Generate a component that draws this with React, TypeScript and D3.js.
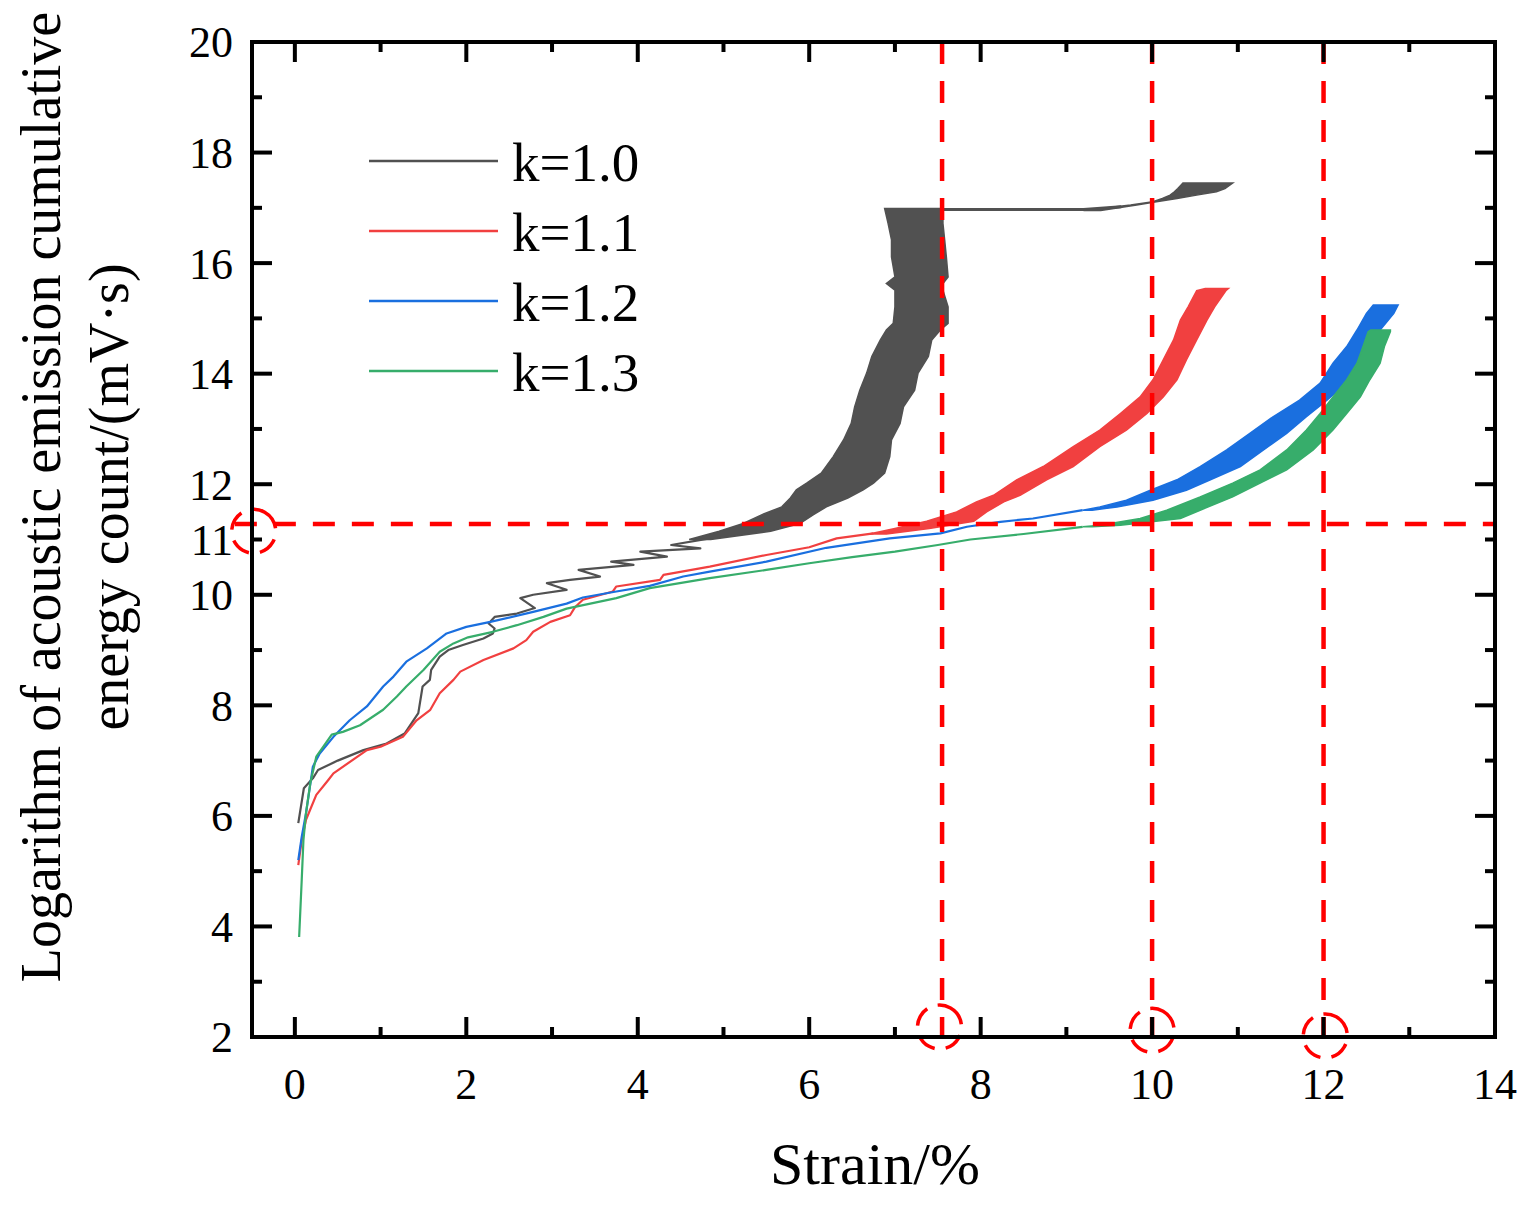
import { useEffect, useRef } from 'react';
import * as d3 from 'd3';

// thin parts of each curve: [strain %, log energy]
const k10Line: [number, number][] = [
  [0.04, 5.87], [0.105, 6.5], [0.21, 6.68], [0.27, 6.83], [0.5, 7.0], [0.8, 7.19], [1.07, 7.31],
  [1.28, 7.49], [1.44, 7.86], [1.49, 8.34], [1.575, 8.46], [1.59, 8.64], [1.69, 8.88], [1.79, 9.0],
  [1.96, 9.09], [2.2, 9.21], [2.31, 9.3], [2.33, 9.39], [2.26, 9.48], [2.33, 9.6], [2.59, 9.66],
  [2.8, 9.76], [2.63, 9.94], [2.78, 10.0], [3.17, 10.09], [2.94, 10.21], [3.21, 10.27], [3.56, 10.33],
  [3.31, 10.45], [3.95, 10.54], [3.69, 10.6], [4.34, 10.69], [4.03, 10.78], [4.73, 10.84],
  [4.39, 10.9], [4.84, 11.02],
];
const k11Line: [number, number][] = [
  [0.04, 5.11], [0.08, 5.56], [0.13, 5.93], [0.25, 6.38], [0.39, 6.65], [0.45, 6.77], [0.84, 7.19],
  [1.0, 7.25], [1.26, 7.43], [1.42, 7.73], [1.58, 7.92], [1.69, 8.22], [1.85, 8.46], [1.93, 8.61],
  [2.2, 8.82], [2.55, 9.03], [2.7, 9.18], [2.78, 9.33], [2.98, 9.51], [3.21, 9.63], [3.27, 9.78],
  [3.36, 9.91], [3.71, 10.06], [3.75, 10.15], [4.26, 10.27], [4.3, 10.36], [4.84, 10.51],
  [5.5, 10.72], [6.0, 10.86], [6.32, 11.02], [6.75, 11.11],
];
const k12Line: [number, number][] = [
  [0.04, 5.2], [0.08, 5.62], [0.13, 6.05], [0.21, 6.89], [0.25, 7.01], [0.29, 7.13], [0.45, 7.43],
  [0.64, 7.73], [0.84, 7.98], [1.03, 8.34], [1.15, 8.52], [1.3, 8.79], [1.54, 9.03], [1.77, 9.3],
  [2.0, 9.42], [2.28, 9.51], [2.78, 9.69], [3.17, 9.84], [3.36, 9.95], [3.75, 10.06], [4.14, 10.16],
  [4.53, 10.33], [4.84, 10.42], [5.5, 10.6], [6.2, 10.85], [6.94, 11.02], [7.53, 11.11],
  [7.84, 11.23], [8.23, 11.32], [8.61, 11.38], [9.19, 11.53],
];
const k13Line: [number, number][] = [
  [0.05, 3.81], [0.08, 4.84], [0.1, 5.56], [0.13, 6.05], [0.18, 6.59], [0.25, 7.07], [0.33, 7.25],
  [0.43, 7.47], [0.56, 7.52], [0.76, 7.64], [1.03, 7.92], [1.19, 8.16], [1.3, 8.34], [1.5, 8.64],
  [1.69, 8.97], [1.85, 9.12], [2.02, 9.23], [2.31, 9.33], [2.59, 9.45], [2.9, 9.6], [3.17, 9.75],
  [3.75, 9.94], [4.14, 10.12], [4.84, 10.3], [5.5, 10.45], [6.0, 10.57], [6.5, 10.68], [7.0, 10.78],
  [7.5, 10.9], [7.88, 11.0], [8.5, 11.1], [9.19, 11.23],
];

// oscillating parts drawn as bands: [log energy, left strain, right strain]
const k10Band: [number, number, number][] = [
  [11.0, 4.6, 4.85], [11.15, 4.95, 5.55], [11.29, 5.23, 5.89], [11.45, 5.45, 6.05], [11.59, 5.68, 6.2],
  [11.75, 5.78, 6.45], [11.9, 5.85, 6.63], [12.02, 5.97, 6.75], [12.2, 6.14, 6.88], [12.5, 6.28, 6.94],
  [12.8, 6.4, 6.96], [13.1, 6.49, 7.06], [13.4, 6.53, 7.1], [13.7, 6.59, 7.23], [14.01, 6.67, 7.27],
  [14.31, 6.73, 7.39], [14.61, 6.83, 7.43], [14.79, 6.9, 7.53], [14.91, 6.98, 7.62], [15.21, 7.0, 7.62],
  [15.51, 7.0, 7.56], [15.63, 6.9, 7.56], [15.75, 7.0, 7.62], [16.11, 6.96, 7.6], [16.42, 6.96, 7.58],
  [16.72, 6.92, 7.56], [16.99, 6.88, 7.56],
];
const k10Plateau: [number, number][] = [[6.9, 16.97], [9.2, 16.97], [9.64, 17.02]];
const k10TopBand: [number, number, number][] = [
  [16.95, 9.2, 9.4], [17.05, 9.75, 9.82], [17.11, 10.01, 10.05], [17.17, 10.12, 10.29],
  [17.23, 10.21, 10.52], [17.29, 10.26, 10.75], [17.35, 10.3, 10.85], [17.45, 10.36, 10.94],
];
const k11Band: [number, number, number][] = [
  [11.1, 6.7, 6.9], [11.2, 7.0, 7.4], [11.33, 7.37, 7.92], [11.5, 7.72, 8.07], [11.68, 7.95, 8.27],
  [11.8, 8.15, 8.46], [12.08, 8.42, 8.77], [12.32, 8.73, 9.08], [12.68, 9.08, 9.39], [12.98, 9.39, 9.7],
  [13.28, 9.63, 9.94], [13.58, 9.86, 10.13], [13.89, 10.01, 10.29], [14.25, 10.13, 10.4],
  [14.61, 10.25, 10.52], [14.97, 10.33, 10.64], [15.21, 10.42, 10.73], [15.5, 10.52, 10.86],
  [15.54, 10.62, 10.89],
];
const k12Band: [number, number, number][] = [
  [11.53, 9.19, 9.3], [11.59, 9.39, 9.59], [11.71, 9.7, 10.01], [11.89, 9.98, 10.4],
  [12.08, 10.29, 10.68], [12.32, 10.56, 11.03], [12.62, 10.87, 11.3], [12.92, 11.14, 11.57],
  [13.22, 11.41, 11.8], [13.52, 11.72, 12.04], [13.83, 11.96, 12.27], [14.19, 12.11, 12.43],
  [14.49, 12.27, 12.54], [14.79, 12.39, 12.66], [15.09, 12.5, 12.82], [15.24, 12.58, 12.87],
];
const k13Band: [number, number, number][] = [
  [11.23, 9.19, 9.3], [11.26, 9.39, 9.63], [11.38, 9.86, 10.33], [11.53, 10.17, 10.56],
  [11.77, 10.56, 10.94], [12.02, 10.94, 11.26], [12.26, 11.26, 11.57], [12.62, 11.57, 11.88],
  [12.98, 11.8, 12.11], [13.28, 11.96, 12.27], [13.58, 12.11, 12.43], [13.89, 12.27, 12.54],
  [14.19, 12.39, 12.66], [14.49, 12.46, 12.71], [14.76, 12.52, 12.78], [14.79, 12.55, 12.78],
];

const seriesNames = ['k=1.0', 'k=1.1', 'k=1.2', 'k=1.3'];
const seriesColors = ['#515151', '#F14040', '#1A6FDF', '#37AD6B'];

const xTicks = [0, 2, 4, 6, 8, 10, 12, 14];
const yTicks = [2, 4, 6, 8, 10, 11, 12, 14, 16, 18, 20];

// red dashed guide lines and circled points
const guideStrains = [7.55, 10, 12];
const guideEnergy = 11.28;
const circledPoints: [number, number][] = [[-0.48, 11.15], [7.52, 2.18], [10.0, 2.12], [12.02, 2.02]];

export default function App() {
  const svgRef = useRef<SVGSVGElement>(null);

  useEffect(() => {
    if (!svgRef.current) return;
    const width = 1538;
    const height = 1205;
    const svg = d3.select(svgRef.current).attr('width', width).attr('height', height);
    svg.selectAll('*').remove();

    const x = d3.scaleLinear().domain([-0.5, 14]).range([252, 1495]);
    const y = d3.scaleLinear().domain([2, 20]).range([1037, 42]);
    const font = '"Liberation Serif", "Times New Roman", serif';

    const line = d3
      .line<[number, number]>()
      .x((d) => x(d[0]))
      .y((d) => y(d[1]));
    const band = d3
      .area<[number, number, number]>()
      .y((d) => y(d[0]))
      .x0((d) => x(d[1]))
      .x1((d) => x(d[2]));

    const lines = [k10Line, k11Line, k12Line, k13Line];
    const bands = [k10Band, k11Band, k12Band, k13Band];

    const plot = svg.append('g');
    lines.forEach((pts, i) => {
      plot
        .append('path')
        .attr('d', line(pts))
        .attr('fill', 'none')
        .attr('stroke', seriesColors[i])
        .attr('stroke-width', 2.2)
        .attr('stroke-linejoin', 'round');
      plot
        .append('path')
        .attr('d', band(bands[i]))
        .attr('fill', seriesColors[i])
        .attr('stroke', seriesColors[i])
        .attr('stroke-width', 1.5);
    });
    plot
      .append('path')
      .attr('d', line(k10Plateau))
      .attr('fill', 'none')
      .attr('stroke', seriesColors[0])
      .attr('stroke-width', 3);
    plot
      .append('path')
      .attr('d', band(k10TopBand))
      .attr('fill', seriesColors[0])
      .attr('stroke', seriesColors[0])
      .attr('stroke-width', 1.5);

    // guides
    const guides = svg.append('g').attr('stroke', '#ff0000').attr('fill', 'none');
    guideStrains.forEach((s) => {
      guides
        .append('line')
        .attr('x1', x(s))
        .attr('x2', x(s))
        .attr('y1', y(20))
        .attr('y2', y(2) + 6)
        .attr('stroke-width', 4.5)
        .attr('stroke-dasharray', '22 17');
    });
    guides
      .append('line')
      .attr('x1', x(-0.7))
      .attr('x2', x(14))
      .attr('y1', y(guideEnergy))
      .attr('y2', y(guideEnergy))
      .attr('stroke-width', 4.5)
      .attr('stroke-dasharray', '22 17');
    circledPoints.forEach(([cx, cy]) => {
      guides
        .append('circle')
        .attr('cx', x(cx))
        .attr('cy', y(cy))
        .attr('r', 22)
        .attr('stroke-width', 3.5)
        .attr('stroke-dasharray', '20 11')
        .attr('transform', `rotate(-60 ${x(cx)} ${y(cy)})`);
    });

    // frame + inward ticks
    const frame = svg.append('g').attr('stroke', '#000');
    frame
      .append('rect')
      .attr('x', x(-0.5))
      .attr('y', y(20))
      .attr('width', x(14) - x(-0.5))
      .attr('height', y(2) - y(20))
      .attr('fill', 'none')
      .attr('stroke-width', 4);
    d3.range(0, 15, 1).forEach((v) => {
      const len = v % 2 === 0 ? 20 : 10;
      frame.append('line').attr('x1', x(v)).attr('x2', x(v)).attr('y1', y(2)).attr('y2', y(2) - len).attr('stroke-width', 4);
      frame.append('line').attr('x1', x(v)).attr('x2', x(v)).attr('y1', y(20)).attr('y2', y(20) + len).attr('stroke-width', 4);
    });
    d3.range(3, 20, 1).forEach((v) => {
      const len = v % 2 === 0 ? 20 : 10;
      frame.append('line').attr('x1', x(-0.5)).attr('x2', x(-0.5) + len).attr('y1', y(v)).attr('y2', y(v)).attr('stroke-width', 4);
      frame.append('line').attr('x1', x(14)).attr('x2', x(14) - len).attr('y1', y(v)).attr('y2', y(v)).attr('stroke-width', 4);
    });

    // tick labels
    xTicks.forEach((t) => {
      svg
        .append('text')
        .attr('x', x(t))
        .attr('y', 1099)
        .attr('text-anchor', 'middle')
        .style('font-family', font)
        .style('font-size', '44px')
        .text(t);
    });
    yTicks.forEach((t) => {
      svg
        .append('text')
        .attr('x', 233)
        .attr('y', y(t))
        .attr('dy', '0.35em')
        .attr('text-anchor', 'end')
        .style('font-family', font)
        .style('font-size', '44px')
        .text(t);
    });

    // axis titles
    svg
      .append('text')
      .attr('x', 875)
      .attr('y', 1184)
      .attr('text-anchor', 'middle')
      .style('font-family', font)
      .style('font-size', '60px')
      .text('Strain/%');
    const yTitle = svg
      .append('text')
      .attr('transform', 'translate(60,497) rotate(-90)')
      .attr('text-anchor', 'middle')
      .style('font-family', font)
      .style('font-size', '56px');
    yTitle.append('tspan').attr('x', 0).attr('y', 0).text('Logarithm of acoustic emission cumulative');
    yTitle.append('tspan').attr('x', 0).attr('y', 68).text('energy count/(mV·s)');

    // legend
    seriesNames.forEach((name, i) => {
      const ly = 161 + i * 70;
      svg
        .append('line')
        .attr('x1', 369)
        .attr('x2', 498)
        .attr('y1', ly)
        .attr('y2', ly)
        .attr('stroke', seriesColors[i])
        .attr('stroke-width', 2.5);
      svg
        .append('text')
        .attr('x', 512)
        .attr('y', ly + 20)
        .style('font-family', font)
        .style('font-size', '55px')
        .text(name);
    });
  }, []);

  return (
    <div style={{ position: 'absolute', left: 0, top: 0 }}>
      <svg ref={svgRef}></svg>
    </div>
  );
}
